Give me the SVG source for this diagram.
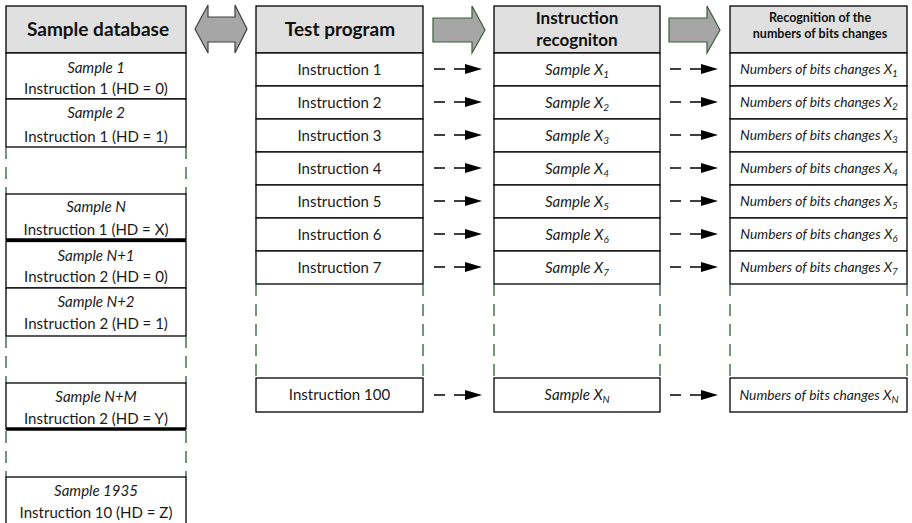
<svg xmlns="http://www.w3.org/2000/svg" width="912" height="523" viewBox="0 0 912 523">
<defs>
<marker id="ah" markerUnits="userSpaceOnUse" markerWidth="18" markerHeight="11" refX="0" refY="5" orient="auto"><path d="M0,0 L17,5 L0,10 z" fill="#000"/></marker>
<style>
.box{fill:#fff;stroke:#000;stroke-width:1.3}
.hdr{fill:#e0e0e0;stroke:#000;stroke-width:1.3}
.thick{stroke:#000;stroke-width:3.5}
.gap{stroke:#2f5a34;stroke-width:1.3;stroke-dasharray:12 8;fill:none}
.t{font-family:Lato,"Open Sans",sans-serif;font-size:15px;fill:#1a1a1a;text-anchor:middle}
.i{font-style:italic}
.b{font-weight:bold;font-size:17px;fill:#111}
.bb{font-size:19px}
.hs{font-weight:bold;font-size:12.5px;fill:#111}
.n{font-family:Lato,"Open Sans",sans-serif;font-size:13.8px;font-style:italic;fill:#1a1a1a;text-anchor:middle}
.blk{fill:#a6a6a6;stroke:#3d5c3d;stroke-width:1.2}
.dbl{fill:#a6a6a6;stroke:#404040;stroke-width:1.2}
.da{stroke:#000;stroke-width:1.6;stroke-dasharray:11 9;fill:none;marker-end:url(#ah)}
</style>
</defs>

<g id="col-sample-database">
<g id="sd-header"><rect class="hdr" x="6" y="6" width="180" height="47"/><text class="t b bb" x="98" y="36">Sample database</text></g>
<g id="sd-sample1"><rect class="box" x="6" y="53" width="180" height="46"/><text class="t i" x="96" y="73">Sample 1</text><text class="t" x="96" y="94">Instruction 1 (HD = 0)</text></g>
<g id="sd-sample2"><rect class="box" x="6" y="99" width="180" height="48"/><text class="t i" x="96" y="118">Sample 2</text><text class="t" x="96" y="142">Instruction 1 (HD = 1)</text></g>
<g id="sd-gap1"><line class="gap" x1="6" y1="147" x2="6" y2="194"/><line class="gap" x1="186" y1="147" x2="186" y2="194"/></g>
<g id="sd-sampleN"><rect class="box" x="6" y="194" width="180" height="46"/><line class="thick" x1="6" y1="240" x2="186" y2="240"/><text class="t i" x="96" y="212">Sample N</text><text class="t" x="96" y="235">Instruction 1 (HD = X)</text></g>
<g id="sd-sampleN1"><rect class="box" x="6" y="241.5" width="180" height="46.5"/><text class="t i" x="96" y="261">Sample N+1</text><text class="t" x="96" y="282">Instruction 2 (HD = 0)</text></g>
<g id="sd-sampleN2"><rect class="box" x="6" y="288" width="180" height="48"/><text class="t i" x="96" y="307">Sample N+2</text><text class="t" x="96" y="329">Instruction 2 (HD = 1)</text></g>
<g id="sd-gap2"><line class="gap" x1="6" y1="336" x2="6" y2="383"/><line class="gap" x1="186" y1="336" x2="186" y2="383"/></g>
<g id="sd-sampleNM"><rect class="box" x="6" y="383" width="180" height="46"/><line class="thick" x1="6" y1="429" x2="186" y2="429"/><text class="t i" x="96" y="402">Sample N+M</text><text class="t" x="96" y="424">Instruction 2 (HD = Y)</text></g>
<g id="sd-gap3"><line class="gap" x1="6" y1="431" x2="6" y2="477"/><line class="gap" x1="186" y1="431" x2="186" y2="477"/></g>
<g id="sd-sample1935"><rect class="box" x="6" y="477" width="180" height="60"/><text class="t i" x="96" y="496">Sample 1935</text><text class="t" x="96" y="518">Instruction 10 (HD = Z)</text></g>
</g>

<g id="col-test-program">
<g id="tp-header"><rect class="hdr" x="256" y="6" width="167" height="47"/><text class="t b bb" x="340" y="36">Test program</text></g>
<g id="tp-1"><rect class="box" x="256" y="53" width="167" height="33"/><text class="t" x="339.5" y="75">Instruction 1</text></g>
<g id="tp-2"><rect class="box" x="256" y="86" width="167" height="33"/><text class="t" x="339.5" y="108">Instruction 2</text></g>
<g id="tp-3"><rect class="box" x="256" y="119" width="167" height="33"/><text class="t" x="339.5" y="141">Instruction 3</text></g>
<g id="tp-4"><rect class="box" x="256" y="152" width="167" height="33"/><text class="t" x="339.5" y="174">Instruction 4</text></g>
<g id="tp-5"><rect class="box" x="256" y="185" width="167" height="33"/><text class="t" x="339.5" y="207">Instruction 5</text></g>
<g id="tp-6"><rect class="box" x="256" y="218" width="167" height="33"/><text class="t" x="339.5" y="240">Instruction 6</text></g>
<g id="tp-7"><rect class="box" x="256" y="251" width="167" height="33"/><text class="t" x="339.5" y="273">Instruction 7</text></g>
<g id="tp-gap"><line class="gap" x1="256" y1="284" x2="256" y2="378"/><line class="gap" x1="423" y1="284" x2="423" y2="378"/></g>
<g id="tp-100"><rect class="box" x="256" y="378" width="167" height="34"/><text class="t" x="339.5" y="400">Instruction 100</text></g>
</g>

<g id="col-instruction-recognition">
<g id="ir-header"><rect class="hdr" x="494" y="6" width="166" height="47"/><text class="t b" x="577" y="24">Instruction</text><text class="t b" x="577" y="46">recogniton</text></g>
<g id="ir-1"><rect class="box" x="494" y="53" width="166" height="33"/><text class="t i" x="577" y="75">Sample X<tspan font-size="10" dy="3">1</tspan></text></g>
<g id="ir-2"><rect class="box" x="494" y="86" width="166" height="33"/><text class="t i" x="577" y="108">Sample X<tspan font-size="10" dy="3">2</tspan></text></g>
<g id="ir-3"><rect class="box" x="494" y="119" width="166" height="33"/><text class="t i" x="577" y="141">Sample X<tspan font-size="10" dy="3">3</tspan></text></g>
<g id="ir-4"><rect class="box" x="494" y="152" width="166" height="33"/><text class="t i" x="577" y="174">Sample X<tspan font-size="10" dy="3">4</tspan></text></g>
<g id="ir-5"><rect class="box" x="494" y="185" width="166" height="33"/><text class="t i" x="577" y="207">Sample X<tspan font-size="10" dy="3">5</tspan></text></g>
<g id="ir-6"><rect class="box" x="494" y="218" width="166" height="33"/><text class="t i" x="577" y="240">Sample X<tspan font-size="10" dy="3">6</tspan></text></g>
<g id="ir-7"><rect class="box" x="494" y="251" width="166" height="33"/><text class="t i" x="577" y="273">Sample X<tspan font-size="10" dy="3">7</tspan></text></g>
<g id="ir-gap"><line class="gap" x1="494" y1="284" x2="494" y2="378"/><line class="gap" x1="660" y1="284" x2="660" y2="378"/></g>
<g id="ir-N"><rect class="box" x="494" y="378" width="166" height="34"/><text class="t i" x="577" y="400">Sample X<tspan font-size="10" dy="3">N</tspan></text></g>
</g>

<g id="col-bit-changes">
<g id="bc-header"><rect class="hdr" x="730" y="6" width="177" height="47"/><text class="t hs" x="820" y="22">Recognition of the</text><text class="t hs" x="820" y="38">numbers of bits changes</text></g>
<g id="bc-1"><rect class="box" x="730" y="53" width="177" height="33"/><text class="n" x="819" y="74">Numbers of bits changes X<tspan font-size="10" dy="3">1</tspan></text></g>
<g id="bc-2"><rect class="box" x="730" y="86" width="177" height="33"/><text class="n" x="819" y="107">Numbers of bits changes X<tspan font-size="10" dy="3">2</tspan></text></g>
<g id="bc-3"><rect class="box" x="730" y="119" width="177" height="33"/><text class="n" x="819" y="140">Numbers of bits changes X<tspan font-size="10" dy="3">3</tspan></text></g>
<g id="bc-4"><rect class="box" x="730" y="152" width="177" height="33"/><text class="n" x="819" y="173">Numbers of bits changes X<tspan font-size="10" dy="3">4</tspan></text></g>
<g id="bc-5"><rect class="box" x="730" y="185" width="177" height="33"/><text class="n" x="819" y="206">Numbers of bits changes X<tspan font-size="10" dy="3">5</tspan></text></g>
<g id="bc-6"><rect class="box" x="730" y="218" width="177" height="33"/><text class="n" x="819" y="239">Numbers of bits changes X<tspan font-size="10" dy="3">6</tspan></text></g>
<g id="bc-7"><rect class="box" x="730" y="251" width="177" height="33"/><text class="n" x="819" y="272">Numbers of bits changes X<tspan font-size="10" dy="3">7</tspan></text></g>
<g id="bc-gap"><line class="gap" x1="730" y1="284" x2="730" y2="378"/><line class="gap" x1="907" y1="284" x2="907" y2="378"/></g>
<g id="bc-N"><rect class="box" x="730" y="378" width="177" height="34"/><text class="n" x="819" y="400">Numbers of bits changes X<tspan font-size="10" dy="3">N</tspan></text></g>
</g>

<g id="connectors">
<polygon class="dbl" points="195,29 208,5 208,17 235,17 235,5 247,29 235,53 235,42 208,42 208,53"/>
<polygon class="blk" points="433,18 472,18 472,6 485,30 472,53 472,42 433,42"/>
<polygon class="blk" points="669,18 707,18 707,6 720,30 707,53 707,42 669,42"/>
<path class="da" d="M434 69 H465"/>
<path class="da" d="M434 102 H465"/>
<path class="da" d="M434 135 H465"/>
<path class="da" d="M434 168 H465"/>
<path class="da" d="M434 201 H465"/>
<path class="da" d="M434 234 H465"/>
<path class="da" d="M434 267 H465"/>
<path class="da" d="M434 395 H465"/>
<path class="da" d="M670 69 H701"/>
<path class="da" d="M670 102 H701"/>
<path class="da" d="M670 135 H701"/>
<path class="da" d="M670 168 H701"/>
<path class="da" d="M670 201 H701"/>
<path class="da" d="M670 234 H701"/>
<path class="da" d="M670 267 H701"/>
<path class="da" d="M670 395 H701"/>
</g>
</svg>
